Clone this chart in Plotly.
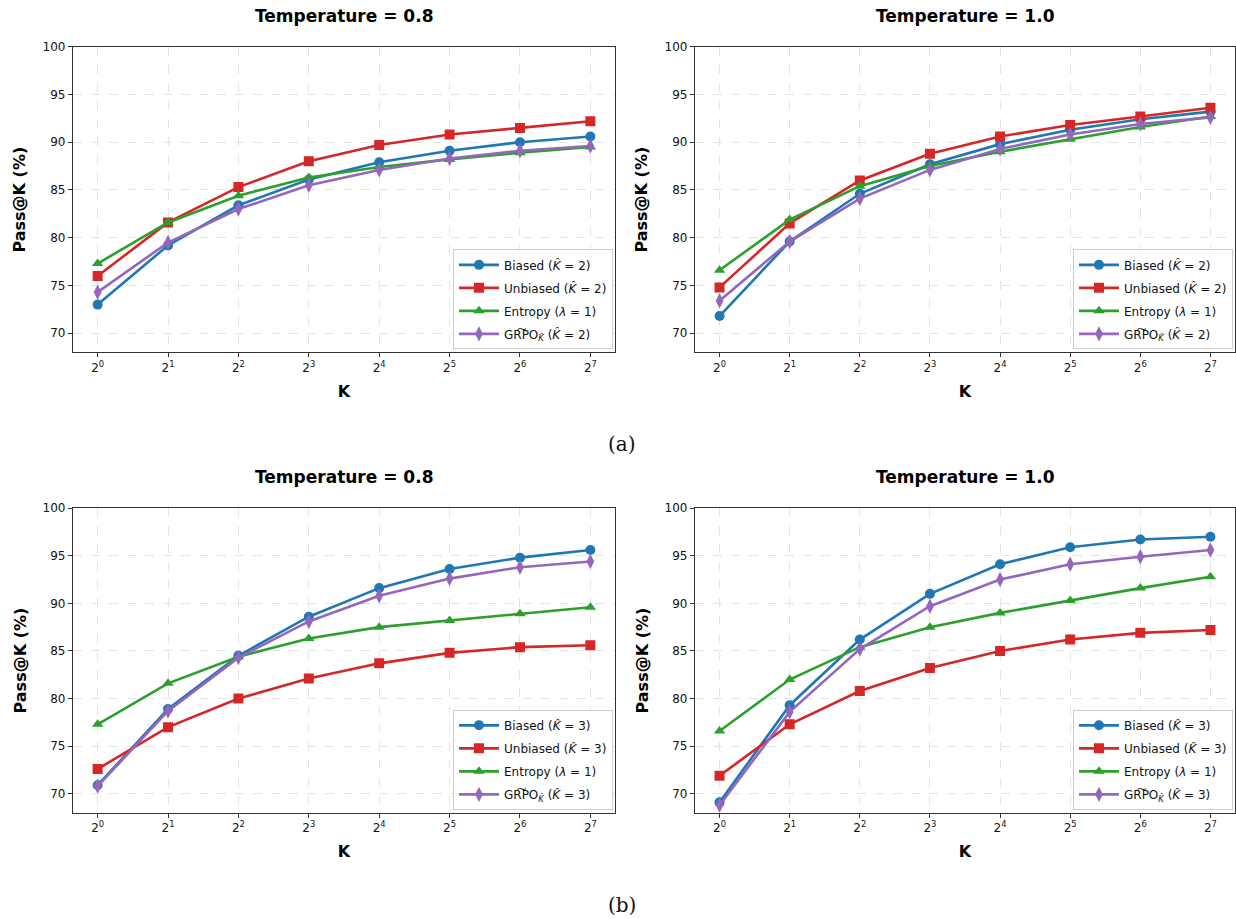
import plotly.graph_objects as go

K_LABELS = ["2<sup>%d</sup>" % i for i in range(8)]
K_INDEX = list(range(8))

# (a) K_hat = 2
a08_biased   = [73.0, 79.2, 83.4, 86.1, 87.9, 89.1, 90.0, 90.6]
a08_unbiased = [76.0, 81.6, 85.3, 88.0, 89.7, 90.8, 91.5, 92.2]
a08_entropy  = [77.3, 81.6, 84.4, 86.3, 87.4, 88.2, 88.9, 89.5]
a08_grpo     = [74.3, 79.5, 83.0, 85.5, 87.1, 88.3, 89.1, 89.6]

a10_biased   = [71.8, 79.6, 84.6, 87.7, 89.8, 91.3, 92.4, 93.2]
a10_unbiased = [74.8, 81.5, 86.0, 88.8, 90.6, 91.8, 92.7, 93.6]
a10_entropy  = [76.6, 81.9, 85.4, 87.5, 89.0, 90.3, 91.6, 92.7]
a10_grpo     = [73.4, 79.6, 84.1, 87.1, 89.3, 90.8, 91.9, 92.6]

# (b) K_hat = 3
b08_biased   = [70.9, 78.9, 84.5, 88.6, 91.6, 93.6, 94.8, 95.6]
b08_unbiased = [72.6, 77.0, 80.0, 82.1, 83.7, 84.8, 85.4, 85.6]
b08_entropy  = [77.3, 81.6, 84.4, 86.3, 87.5, 88.2, 88.9, 89.6]
b08_grpo     = [70.8, 78.7, 84.3, 88.1, 90.8, 92.6, 93.8, 94.4]

b10_biased   = [69.1, 79.3, 86.2, 91.0, 94.1, 95.9, 96.7, 97.0]
b10_unbiased = [71.9, 77.3, 80.8, 83.2, 85.0, 86.2, 86.9, 87.2]
b10_entropy  = [76.6, 82.0, 85.4, 87.5, 89.0, 90.3, 91.6, 92.8]
b10_grpo     = [68.8, 78.6, 85.2, 89.7, 92.5, 94.1, 94.9, 95.6]

TITLES = ["Temperature = 0.8", "Temperature = 1.0", "Temperature = 0.8", "Temperature = 1.0"]

COLORS = ["#1f77b4", "#d62728", "#2ca02c", "#9467bd"]
SYMBOLS = ["circle", "square", "triangle-up", "diamond-tall"]

def names(kh):
    return [
        "Biased (<i>K̂</i> = %d)" % kh,
        "Unbiased (<i>K̂</i> = %d)" % kh,
        "Entropy (<i>λ</i> = 1)",
        "GR͠PO<sub><i>K̂</i></sub> (<i>K̂</i> = %d)" % kh,
    ]

panels = [
    ([a08_biased, a08_unbiased, a08_entropy, a08_grpo], 2),
    ([a10_biased, a10_unbiased, a10_entropy, a10_grpo], 2),
    ([b08_biased, b08_unbiased, b08_entropy, b08_grpo], 3),
    ([b10_biased, b10_unbiased, b10_entropy, b10_grpo], 3),
]

W, H = 1236, 919
xdoms = [(73, 615), (695, 1235)]
ydoms = [(40, 348), (505, 812)]

fig = go.Figure()
layout = dict(
    width=W, height=H, margin=dict(l=0, r=0, t=0, b=0),
    paper_bgcolor="white", plot_bgcolor="white",
    font=dict(family="DejaVu Sans", color="#111", size=12),
    showlegend=True,
)
annotations = []

for p, (series, kh) in enumerate(panels):
    r, c = divmod(p, 2)
    idx = p + 1
    xa = "x" if idx == 1 else "x%d" % idx
    ya = "y" if idx == 1 else "y%d" % idx
    leg = "legend" if idx == 1 else "legend%d" % idx
    nm = names(kh)
    for s, vals in enumerate(series):
        fig.add_trace(go.Scatter(
            x=K_INDEX, y=vals, xaxis=xa, yaxis=ya, legend=leg,
            legendgroup="p%d_s%d" % (p, s),
            mode="lines+markers", name=nm[s],
            line=dict(color=COLORS[s], width=2.6),
            marker=dict(symbol=SYMBOLS[s], size=10 if s != 3 else 11, color=COLORS[s]),
        ))
    x0, x1 = xdoms[c]
    y0, y1 = ydoms[r]
    xd = [x0 / W, x1 / W]
    yd = [1 - y1 / H, 1 - y0 / H]
    xkey = "xaxis" if idx == 1 else "xaxis%d" % idx
    ykey = "yaxis" if idx == 1 else "yaxis%d" % idx
    layout[xkey] = dict(
        domain=xd, anchor=ya, range=[-0.35, 7.35],
        tickvals=K_INDEX, ticktext=K_LABELS,
        showgrid=True, gridcolor="#e3e3e3", griddash="dash", gridwidth=1,
        showline=True, mirror=True, linecolor="#333", linewidth=1.3,
        ticks="outside", ticklen=4, tickcolor="#333", zeroline=False,
        tickfont=dict(size=12, family="DejaVu Sans", color="#111"),
        title=dict(text="<b>K</b>", font=dict(size=16, family="DejaVu Sans", color="#000"), standoff=11),
    )
    layout[ykey] = dict(
        domain=yd, anchor=xa, range=[68, 100],
        tickvals=[70, 75, 80, 85, 90, 95, 100],
        showgrid=True, gridcolor="#e3e3e3", griddash="dash", gridwidth=1,
        showline=True, mirror=True, linecolor="#333", linewidth=1.3,
        ticks="outside", ticklen=4, tickcolor="#333", zeroline=False,
        tickfont=dict(size=12, family="DejaVu Sans", color="#111"),
    )
    layout[leg] = dict(
        x=(x1 - 2) / W, y=1 - (y1 - 3) / H, xanchor="right", yanchor="bottom",
        xref="paper", yref="paper",
        bgcolor="rgba(255,255,255,0.85)", bordercolor="#cccccc", borderwidth=1,
        font=dict(size=12, family="DejaVu Sans", color="#111"),
        tracegroupgap=4, itemwidth=40,
    )
    annotations.append(dict(
        text="<b>%s</b>" % TITLES[p], x=(x0 + x1) / 2 / W, y=1 - (y0 - 19) / H,
        xref="paper", yref="paper", xanchor="center", yanchor="bottom",
        showarrow=False, font=dict(size=17, family="DejaVu Sans", color="#000"),
    ))
    annotations.append(dict(
        text="<b>Pass@K (%)</b>", x=(x0 - 53) / W, y=1 - (y0 + y1) / 2 / H,
        xref="paper", yref="paper", xanchor="center", yanchor="middle", textangle=-90,
        showarrow=False, font=dict(size=16, family="DejaVu Sans", color="#000"),
    ))

annotations.append(dict(text="(a)", x=622 / W, y=1 - 440 / H, xref="paper", yref="paper",
                        xanchor="center", yanchor="middle", showarrow=False,
                        font=dict(size=20, family="DejaVu Serif", color="#111")))
annotations.append(dict(text="(b)", x=622 / W, y=1 - 905 / H, xref="paper", yref="paper",
                        xanchor="center", yanchor="middle", showarrow=False,
                        font=dict(size=20, family="DejaVu Serif", color="#111")))
layout["annotations"] = annotations

fig.update_layout(**layout)
fig.write_html(
    "out.html",
    config={"displayModeBar": False},
    post_script="document.body.style.margin='0';document.body.style.padding='0';"
                "document.documentElement.style.overflow='hidden';",
)
